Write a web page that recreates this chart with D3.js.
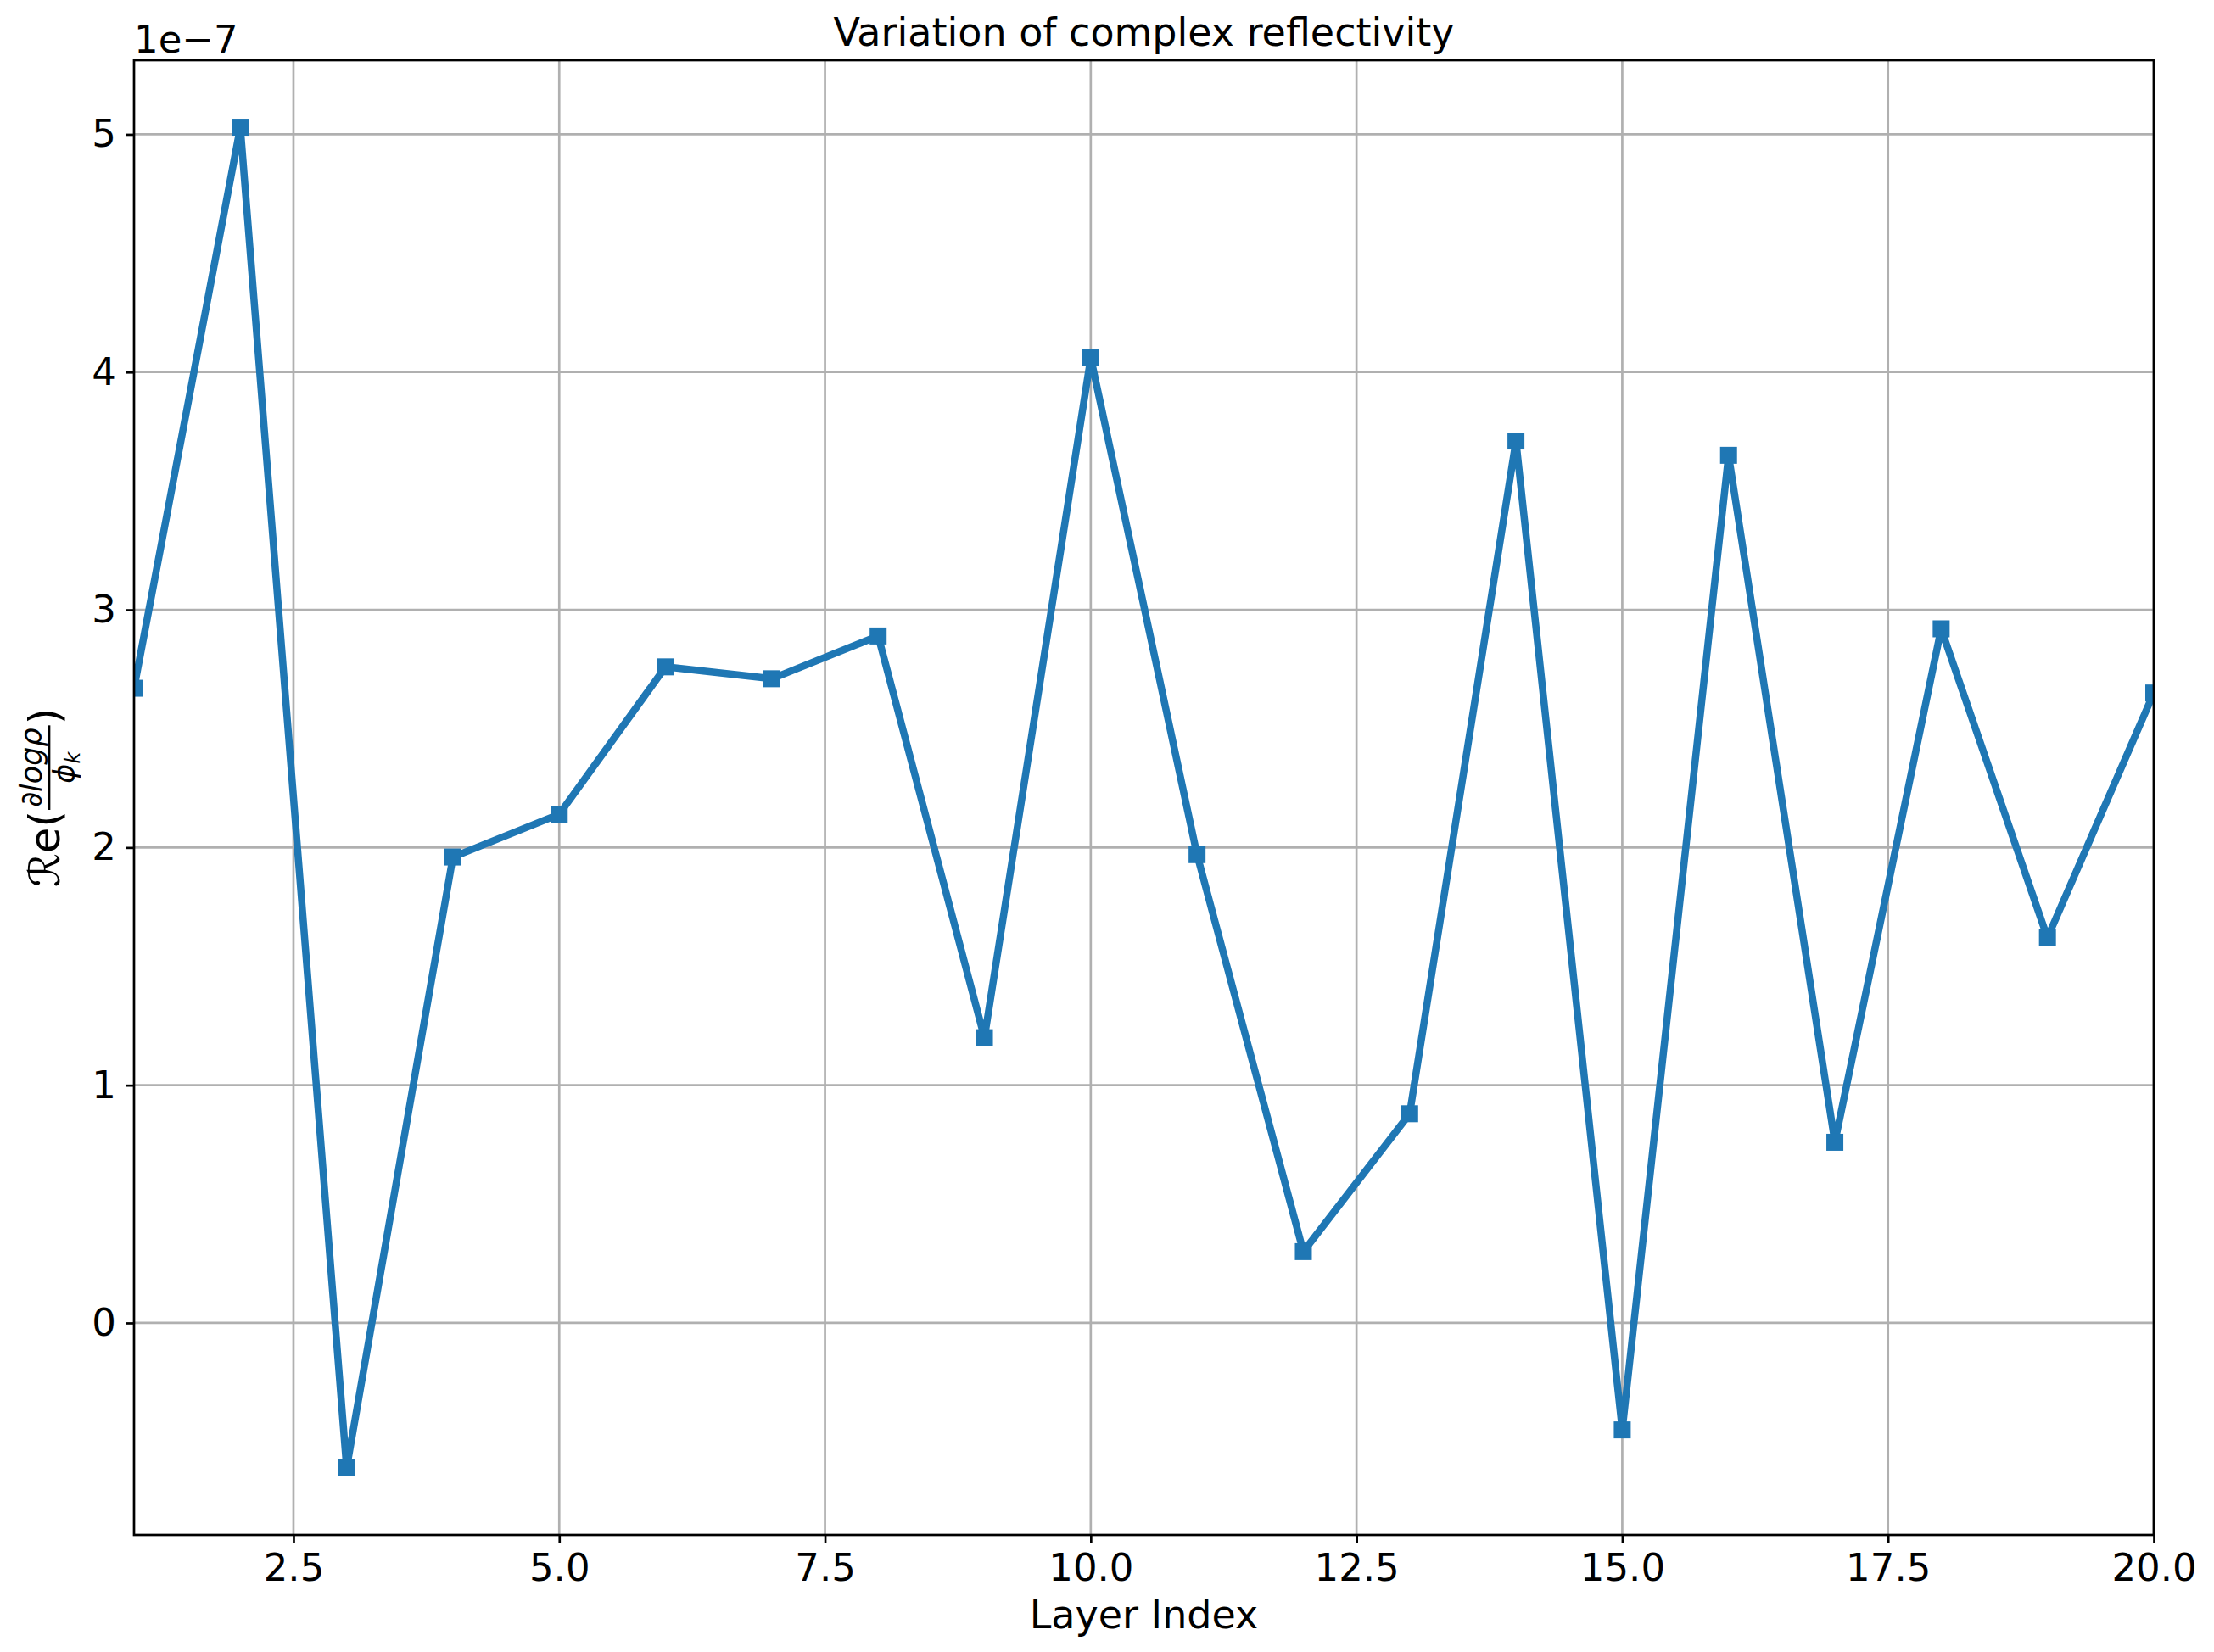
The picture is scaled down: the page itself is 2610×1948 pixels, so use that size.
<!DOCTYPE html>
<html>
<head>
<meta charset="utf-8">
<script src="https://cdn.jsdelivr.net/npm/d3@7"></script>
<style>
  body { margin: 0; background: #fff; }
  text { font-family: "DejaVu Sans", sans-serif; fill: #000; }
</style>
</head>
<body>
<svg id="chart" width="2610" height="1948"></svg>
<script>
// layer index and Re(dlog rho / phi_k), values in units of 1e-7
const layers = [1, 2, 3, 4, 5, 6, 7, 8, 9, 10, 11, 12, 13, 14, 15, 16, 17, 18, 19, 20]
const reflectivity = [2.67, 5.03, -0.61, 1.96, 2.14, 2.76, 2.71, 2.89, 1.20, 4.06,
                      1.97, 0.30, 0.88, 3.71, -0.45, 3.65, 0.76, 2.92, 1.62, 2.65]
const xTicks = [2.5, 5.0, 7.5, 10.0, 12.5, 15.0, 17.5, 20.0]
const yTicks = [0, 1, 2, 3, 4, 5]
const offsetText = '1e\u22127'
const title = 'Variation of complex reflectivity'
const xLabel = 'Layer Index'

const plotLeft = 158, plotRight = 2539, plotTop = 71, plotBottom = 1810
const blue = '#1f77b4'
const tickFont = 45
const labelFont = 46

const svg = d3.select('#chart')
const data = layers.map((d, i) => ({ layer: d, value: reflectivity[i] }))

const x = d3.scaleLinear().domain([1, 20]).range([plotLeft, plotRight])
const [ymin, ymax] = d3.extent(reflectivity)
const pad = (ymax - ymin) * 0.05
const y = d3.scaleLinear().domain([ymin - pad, ymax + pad]).range([plotBottom, plotTop])

// grid
const grid = svg.append('g').attr('stroke', '#b0b0b0').attr('stroke-width', 2.7)
grid.selectAll('line.vx').data(xTicks).enter().append('line')
    .attr('x1', d => x(d)).attr('x2', d => x(d))
    .attr('y1', plotTop).attr('y2', plotBottom)
grid.selectAll('line.hy').data(yTicks).enter().append('line')
    .attr('x1', plotLeft).attr('x2', plotRight)
    .attr('y1', d => y(d)).attr('y2', d => y(d))

// line + markers, clipped to the axes
svg.append('clipPath').attr('id', 'clip')
    .append('rect').attr('x', plotLeft).attr('y', plotTop)
    .attr('width', plotRight - plotLeft).attr('height', plotBottom - plotTop)

const plot = svg.append('g').attr('clip-path', 'url(#clip)')
const line = d3.line().x(d => x(d.layer)).y(d => y(d.value))
plot.append('path')
    .attr('d', line(data))
    .attr('fill', 'none')
    .attr('stroke', blue)
    .attr('stroke-width', 8.5)
    .attr('stroke-linejoin', 'round')
const ms = 20
plot.selectAll('rect.marker').data(data).enter().append('rect')
    .attr('class', 'marker')
    .attr('x', d => x(d.layer) - ms / 2)
    .attr('y', d => y(d.value) - ms / 2)
    .attr('width', ms).attr('height', ms)
    .attr('fill', blue)

// axes
const xAxis = d3.axisBottom(x).tickValues(xTicks).tickFormat(d3.format('.1f'))
    .tickSize(10).tickPadding(12)
const yAxis = d3.axisLeft(y).tickValues(yTicks).tickFormat(d3.format('d'))
    .tickSize(10).tickPadding(11)

const gx = svg.append('g').attr('transform', `translate(0,${plotBottom})`).call(xAxis)
const gy = svg.append('g').attr('transform', `translate(${plotLeft},0)`).call(yAxis)
;[gx, gy].forEach(g => {
    g.select('.domain').remove()
    g.selectAll('line').attr('stroke', '#000').attr('stroke-width', 2.7)
    g.selectAll('text').style('font-size', tickFont + 'px')
        .style('font-family', '"DejaVu Sans", sans-serif').attr('fill', '#000')
})

// spines
svg.append('rect')
    .attr('x', plotLeft).attr('y', plotTop)
    .attr('width', plotRight - plotLeft).attr('height', plotBottom - plotTop)
    .attr('fill', 'none').attr('stroke', '#000').attr('stroke-width', 2.7)

// texts
svg.append('text').attr('x', (plotLeft + plotRight) / 2).attr('y', 54)
    .attr('text-anchor', 'middle').style('font-size', labelFont + 'px').text(title)
svg.append('text').attr('x', plotLeft).attr('y', 62)
    .style('font-size', tickFont + 'px').text(offsetText)
svg.append('text').attr('x', (plotLeft + plotRight) / 2).attr('y', 1920)
    .attr('text-anchor', 'middle').style('font-size', labelFont + 'px').text(xLabel)

// y label: Re( dlogp / phi_k )
const yl = svg.append('g').attr('transform', `translate(58,${(plotTop + plotBottom) / 2}) rotate(-90)`)
const mainSize = 50, small = 35
const t1 = yl.append('text').style('font-size', mainSize + 'px').attr('y', 12).text('\u211Be(')
const num = yl.append('text').style('font-size', small + 'px').style('font-style', 'italic')
    .attr('y', -9).text('\u2202log\u03C1')
const den = yl.append('text').style('font-size', small + 'px').style('font-style', 'italic')
    .attr('y', 30)
den.append('tspan').text('\u03D5')
den.append('tspan').style('font-size', '24px').attr('dy', 6).text('k')
const t2 = yl.append('text').style('font-size', mainSize + 'px').attr('y', 12).text(')')

const w1 = t1.node().getComputedTextLength()
const wn = num.node().getComputedTextLength()
const wd = den.node().getComputedTextLength()
const wf = Math.max(wn, wd) + 8
const w2 = t2.node().getComputedTextLength()
const total = w1 + wf + w2
let cx = -total / 2
t1.attr('x', cx); cx += w1
num.attr('x', cx + (wf - wn) / 2)
den.attr('x', cx + (wf - wd) / 2)
yl.append('line').attr('x1', cx + 1).attr('x2', cx + wf - 1)
    .attr('y1', 0).attr('y2', 0).attr('stroke', '#000').attr('stroke-width', 2.7)
cx += wf
t2.attr('x', cx)
</script>
</body>
</html>
